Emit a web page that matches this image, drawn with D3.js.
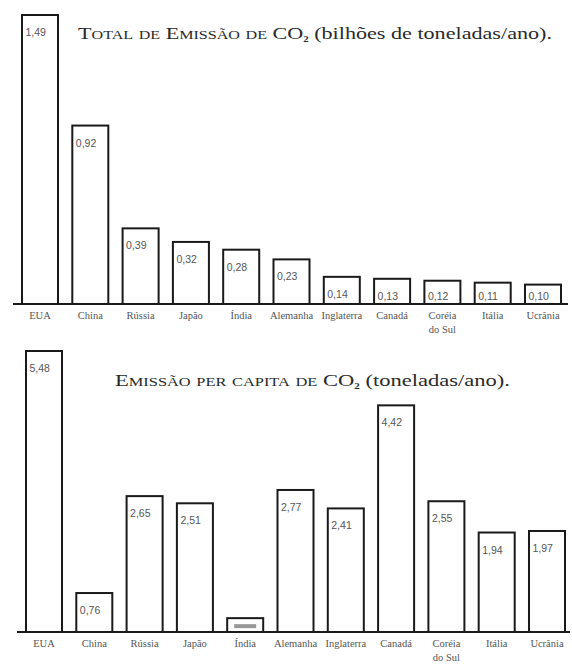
<!DOCTYPE html>
<html>
<head>
<meta charset="utf-8">
<script src="https://cdn.jsdelivr.net/npm/d3@7/dist/d3.min.js"></script>
<style>
  html, body { margin: 0; padding: 0; background: #fff; }
  svg { display: block; }
  .serif { font-family: "Liberation Serif", "Times New Roman", serif; }
  .sans { font-family: "Liberation Sans", Arial, sans-serif; }
</style>
</head>
<body>
<svg id="chart" width="572" height="666"></svg>
<script>
const countries = [["EUA"], ["China"], ["Rússia"], ["Japão"], ["Índia"], ["Alemanha"], ["Inglaterra"], ["Canadá"], ["Coréia", "do Sul"], ["Itália"], ["Ucrânia"]];
const totalValues = [1.49, 0.92, 0.39, 0.32, 0.28, 0.23, 0.14, 0.13, 0.12, 0.11, 0.10];
const perCapitaValues = [5.48, 0.76, 2.65, 2.51, 0.27, 2.77, 2.41, 4.42, 2.55, 1.94, 1.97];
// labels printed in the figure; null = illegible (drawn as a grey smudge)
const totalLabels = ["1,49", "0,92", "0,39", "0,32", "0,28", "0,23", "0,14", "0,13", "0,12", "0,11", "0,10"];
const perCapitaLabels = ["5,48", "0,76", "2,65", "2,51", null, "2,77", "2,41", "4,42", "2,55", "1,94", "1,97"];
const totalTitle = ["Total de Emissão de CO", "2", " (bilhões de toneladas/ano)."];
const perCapitaTitle = ["Emissão per capita de CO", "2", " (toneladas/ano)."];

const svg = d3.select("#chart");

function panel(cfg) {
  const g = svg.append("g");
  const x = d3.scaleBand()
    .domain(d3.range(countries.length))
    .range([cfg.x0, cfg.x1])
    .paddingInner(0.284)
    .paddingOuter(0);
  const y = d3.scaleLinear().domain([0, cfg.max]).range([cfg.base, cfg.top]);

  const rows = cfg.values.map((v, i) => ({ i, v, label: cfg.labels[i] }));

  g.selectAll("rect.bar").data(rows).join("rect")
    .attr("class", "bar")
    .attr("x", d => x(d.i))
    .attr("y", d => y(d.v))
    .attr("width", x.bandwidth())
    .attr("height", d => cfg.base - y(d.v))
    .attr("fill", "#fff")
    .attr("stroke", "#1a1a1a")
    .attr("stroke-width", 2);

  g.selectAll("text.val").data(rows.filter(d => d.label !== null)).join("text")
    .attr("class", "val sans")
    .attr("x", d => x(d.i) + 3.5)
    .attr("y", d => Math.min(y(d.v) + 21, cfg.base - 4))
    .attr("font-size", 10.5)
    .attr("fill", "#555")
    .text(d => d.label);

  g.selectAll("rect.smudge").data(rows.filter(d => d.label === null)).join("rect")
    .attr("class", "smudge")
    .attr("x", d => x(d.i) + 7)
    .attr("y", d => y(d.v) + 6)
    .attr("width", x.bandwidth() - 14)
    .attr("height", 4)
    .attr("fill", "#999");

  g.append("line")
    .attr("x1", cfg.ax0).attr("x2", cfg.ax1)
    .attr("y1", cfg.base).attr("y2", cfg.base)
    .attr("stroke", "#1a1a1a").attr("stroke-width", 2);

  const lab = g.selectAll("text.cat").data(countries).join("text")
    .attr("class", "cat serif")
    .attr("x", (d, i) => x(i) + x.bandwidth() / 2)
    .attr("y", cfg.base + 15)
    .attr("text-anchor", "middle")
    .attr("font-size", 10.5)
    .attr("fill", "#555");
  lab.selectAll("tspan").data(d => d).join("tspan")
    .attr("x", function () { return d3.select(this.parentNode).attr("x"); })
    .attr("dy", (d, j) => j === 0 ? 0 : 13.5)
    .text(d => d);

  const t = g.append("text")
    .attr("class", "serif")
    .attr("x", cfg.tx).attr("y", cfg.ty)
    .attr("font-size", 16.5)
    .attr("fill", "#2a2a2a")
    .attr("textLength", cfg.tw)
    .attr("lengthAdjust", "spacingAndGlyphs");
  t.append("tspan").style("font-variant", "small-caps").text(cfg.title[0]);
  t.append("tspan").attr("font-size", 8).attr("dy", 3).attr("font-weight", "bold").text(cfg.title[1]);
  t.append("tspan").attr("dy", -3).text(cfg.title[2]);
}

panel({ values: totalValues, labels: totalLabels, max: 1.49, base: 304, top: 15, x0: 22, x1: 561, ax0: 13, ax1: 568,
        title: totalTitle, tx: 78, ty: 39, tw: 474 });
panel({ values: perCapitaValues, labels: perCapitaLabels, max: 5.48, base: 632, top: 351, x0: 26, x1: 565, ax0: 17, ax1: 570,
        title: perCapitaTitle, tx: 115, ty: 386, tw: 395 });
</script>
</body>
</html>
